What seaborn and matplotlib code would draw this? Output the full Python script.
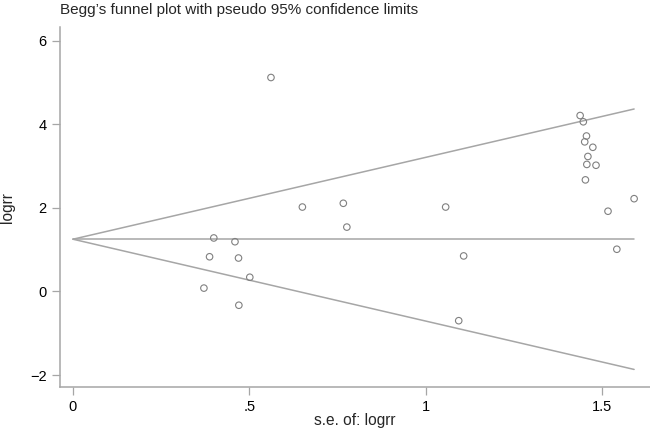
import numpy as np
import pandas as pd
import seaborn as sns
import matplotlib
matplotlib.use("Agg")
import matplotlib.pyplot as plt

#Study data
se_logrr = [0.561, 1.437, 1.446, 1.455, 1.450, 1.473, 1.459, 1.456, 1.482, 1.452,
            1.590, 0.650, 0.766, 1.056, 1.516, 0.776, 0.399, 0.459, 0.387, 0.469,
            1.107, 1.541, 0.501, 0.371, 0.470, 1.093]
logrr = [5.12, 4.21, 4.06, 3.72, 3.58, 3.45, 3.23, 3.04, 3.02, 2.67,
         2.22, 2.02, 2.11, 2.02, 1.92, 1.54, 1.28, 1.19, 0.83, 0.80,
         0.85, 1.01, 0.34, 0.08, -0.33, -0.70]

#Pooled estimate and pseudo 95% limits
pooled = 1.25
z = 1.96

x_ticks = [0, 0.5, 1, 1.5]
x_ticklabels = ["0", ".5", "1", "1.5"]
y_ticks = [-2, 0, 2, 4, 6]

sns.set_theme(style="white")
plt.rcParams['font.family'] = ['Liberation Sans', 'DejaVu Sans']

fig = plt.figure(figsize=(6.5, 4.29), dpi=100)
ax = fig.add_axes([0.0923, 0.0972, 0.9077, 0.8398])

grey = "#a6a6a6"

#Funnel lines
se_max = max(se_logrr)
funnel = pd.DataFrame({
    'se': [0, se_max, 0, se_max, 0, se_max],
    'val': [pooled, pooled + z*se_max, pooled, pooled, pooled, pooled - z*se_max],
    'line': ['upper', 'upper', 'mid', 'mid', 'lower', 'lower'],
})
sns.lineplot(data=funnel, x='se', y='val', units='line', estimator=None,
             color=grey, linewidth=1.1, ax=ax)

#Studies
df = pd.DataFrame({'se': se_logrr, 'logrr': logrr})
sns.scatterplot(data=df, x='se', y='logrr', ax=ax, s=22, marker='o',
                facecolor='none', edgecolor='#808080', linewidth=0.8, zorder=3)

ax.set_xlim(-0.0368, 1.635)
ax.set_ylim(-2.294, 6.328)
ax.set_xticks(x_ticks)
ax.set_xticklabels(x_ticklabels)
ax.set_yticks(y_ticks)
ax.set_yticklabels([str(v) if v >= 0 else "\u2212" + str(-v) for v in y_ticks])

for side in ['top', 'right']:
    ax.spines[side].set_visible(False)
for side in ['left', 'bottom']:
    ax.spines[side].set_color(grey)
    ax.spines[side].set_linewidth(1.1)
ax.tick_params(axis='both', which='major', length=5.5, width=0.9, color=grey,
               labelsize=10.5, labelcolor='black', pad=4, left=True, bottom=True)

ax.set_xlabel("s.e. of: logrr", fontsize=11.2, labelpad=-1)
ax.set_ylabel("logrr", fontsize=11.2)
ax.yaxis.set_label_coords(-0.077, 0.5)
fig.text(0.092, 0.977, "Begg\u2019s funnel plot with pseudo 95% confidence limits",
         fontsize=11, ha='left', va='center')

plt.savefig("out.png", dpi=100)
